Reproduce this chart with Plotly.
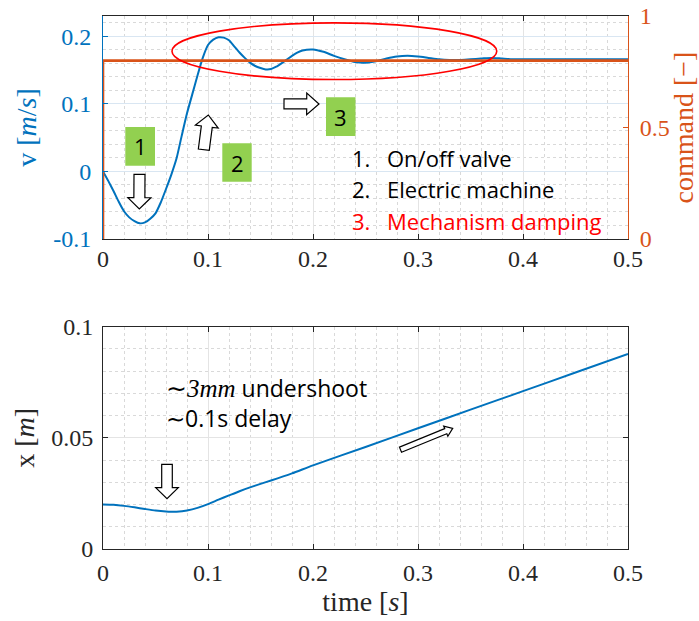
import math
import plotly.graph_objects as go

# ---------------- data ----------------
t_v = [0, 0.005, 0.01, 0.015, 0.02, 0.025, 0.03, 0.035, 0.04, 0.045, 0.05, 0.055,
       0.06, 0.065, 0.07, 0.075, 0.08, 0.085, 0.09, 0.095, 0.1, 0.105, 0.11, 0.115,
       0.12, 0.125, 0.13, 0.135, 0.14, 0.145, 0.15, 0.155, 0.16, 0.165, 0.17, 0.175,
       0.18, 0.185, 0.19, 0.2, 0.21, 0.22, 0.23, 0.24, 0.25, 0.26, 0.27, 0.28, 0.29,
       0.3, 0.31, 0.32, 0.33, 0.34, 0.35, 0.36, 0.37, 0.38, 0.39, 0.4, 0.45, 0.5]
v = [0, -0.014, -0.029, -0.045, -0.059, -0.068, -0.0735, -0.0768, -0.0755, -0.070,
     -0.062, -0.046, -0.026, -0.005, 0.019, 0.053, 0.086, 0.114, 0.142, 0.168, 0.187,
     0.195, 0.1985, 0.198, 0.194, 0.185, 0.176, 0.168, 0.161, 0.156, 0.153, 0.151,
     0.1515, 0.155, 0.160, 0.1655, 0.171, 0.1757, 0.179, 0.1805, 0.177, 0.171, 0.166,
     0.162, 0.161, 0.163, 0.167, 0.170, 0.171, 0.170, 0.168, 0.166, 0.165, 0.165,
     0.166, 0.167, 0.168, 0.167, 0.166, 0.166, 0.166, 0.166]

cmd_t = [0, 0, 0.5]
cmd = [0, 0.8, 0.8]

t_x = [0, 0.01, 0.02, 0.03, 0.04, 0.05, 0.06, 0.065, 0.07, 0.08, 0.09, 0.1, 0.11,
       0.12, 0.13, 0.14, 0.15, 0.16, 0.18, 0.2, 0.25, 0.3, 0.35, 0.4, 0.45, 0.5]
x_pos = [0.0200, 0.01986, 0.0194, 0.01875, 0.0180, 0.0173, 0.01684, 0.01675, 0.0168,
         0.01735, 0.0185, 0.0202, 0.0222, 0.0241, 0.0260, 0.0277, 0.0293, 0.0308,
         0.0340, 0.0376, 0.0459, 0.0543, 0.0627, 0.0710, 0.0794, 0.0877]

t_ticks = [0, 0.1, 0.2, 0.3, 0.4, 0.5]
t_ticktext = ["0", "0.1", "0.2", "0.3", "0.4", "0.5"]
v_ticks = [-0.1, 0, 0.1, 0.2]
v_ticktext = ["-0.1", "0", "0.1", "0.2"]
cmd_ticks = [0, 0.5, 1]
cmd_ticktext = ["0", "0.5", "1"]
x_ticks = [0, 0.05, 0.1]
x_ticktext = ["0", "0.05", "0.1"]

legend_nums = ["1.", "2.", "3."]
legend_items = ["On/off valve", "Electric machine", "Mechanism damping"]
legend_colors = ["black", "black", "#FF0000"]
box_labels = ["1", "2", "3"]

# ---------------- layout geometry ----------------
W, H = 699, 621
ML, MR, MT, MB = 103, 71, 16, 72
PW, PH = W - ML - MR, H - MT - MB

def px(xp):
    return (xp - ML) / PW

def py(yp):
    return (H - MB - yp) / PH

TOP_DOM = [py(239), 1.0]
BOT_DOM = [0.0, py(326.7)]

BLUE = "#0072BD"
ORANGE = "#D95319"
DARK = "#262626"
SERIF = "Liberation Serif"
SANS = "Open Sans"

fig = go.Figure()
fig.add_trace(go.Scatter(x=cmd_t, y=cmd, mode="lines", xaxis="x", yaxis="y3",
                         line=dict(color=ORANGE, width=2.6), showlegend=False))
fig.add_trace(go.Scatter(x=t_v, y=v, mode="lines", xaxis="x", yaxis="y",
                         line=dict(color=BLUE, width=2, shape="spline", smoothing=0.6),
                         showlegend=False))
fig.add_trace(go.Scatter(x=t_x, y=x_pos, mode="lines", xaxis="x2", yaxis="y2",
                         line=dict(color=BLUE, width=2, shape="spline", smoothing=0.6),
                         showlegend=False))

tickfont = dict(family=SERIF, size=24, color=DARK)
titlefont = dict(family=SERIF, size=28, color=DARK)
minor_x = dict(dtick=0.02, showgrid=True, gridcolor="#d9d9d9", griddash="dot", gridwidth=1)

common_x = dict(range=[0, 0.5], tickvals=t_ticks, ticktext=t_ticktext, ticks="inside",
                ticklen=5, tickcolor=DARK, showline=True, linecolor=DARK, linewidth=1,
                mirror="ticks", showgrid=True, gridcolor="#e4e4e4", gridwidth=1,
                minor=minor_x, tickfont=tickfont, zeroline=False, automargin=False)

fig.update_layout(
    width=W, height=H, margin=dict(l=ML, r=MR, t=MT, b=MB, autoexpand=False),
    paper_bgcolor="white", plot_bgcolor="white", showlegend=False,
    xaxis=dict(common_x, anchor="y", domain=[0, 1], ticklabelstandoff=-2),
    xaxis2=dict(common_x, anchor="y2", domain=[0, 1], ticklabelstandoff=2,
                title=dict(text="time [<i>s</i>]", font=titlefont, standoff=4)),
    yaxis=dict(domain=TOP_DOM, anchor="x", range=[-0.1, 0.23], tickvals=v_ticks,
               ticktext=v_ticktext, ticks="inside", ticklen=5, tickcolor=BLUE,
               showline=True, linecolor=BLUE, linewidth=1, mirror=False,
               showgrid=True, gridcolor="#d9e6f2", zeroline=False, automargin=False,
               minor=dict(dtick=0.02, showgrid=True, gridcolor="#d9d9d9", griddash="dot"),
               tickfont=dict(family=SERIF, size=24, color=BLUE), ticklabelstandoff=6,
               title=dict(text="v [<i>m</i>/<i>s</i>]",
                          font=dict(family=SERIF, size=28, color=BLUE), standoff=8)),
    yaxis3=dict(overlaying="y", anchor="x", side="right", range=[0, 1],
                tickvals=cmd_ticks, ticktext=cmd_ticktext, ticks="inside", ticklen=5,
                tickcolor=ORANGE, showline=True, linecolor=ORANGE, linewidth=1,
                showgrid=False, zeroline=False, automargin=False,
                tickfont=dict(family=SERIF, size=24, color=ORANGE), ticklabelstandoff=6,
                title=dict(text="command [\u2212]",
                           font=dict(family=SERIF, size=28, color=ORANGE), standoff=6)),
    yaxis2=dict(domain=BOT_DOM, anchor="x2", range=[0, 0.1], tickvals=x_ticks,
                ticktext=x_ticktext, ticks="inside", ticklen=5, tickcolor=DARK,
                showline=True, linecolor=DARK, linewidth=1, mirror="ticks",
                showgrid=True, gridcolor="#e4e4e4", zeroline=False, automargin=False,
                minor=dict(dtick=0.01, showgrid=True, gridcolor="#d9d9d9", griddash="dot"),
                tickfont=tickfont, ticklabelstandoff=4,
                title=dict(text="x [<i>m</i>]", font=titlefont, standoff=8)),
)

shapes = []
annotations = []

# red ellipse around oscillations (data coords of top plot)
shapes.append(dict(type="circle", xref="x", yref="y", x0=0.0657, x1=0.375,
                   y0=0.136, y1=0.2199, line=dict(color="#FF0000", width=1.6),
                   fillcolor="rgba(0,0,0,0)", layer="above"))

# green number boxes (pixel positions)
boxes = [(125.3, 155.0, 127.0, 165.7), (222.3, 251.7, 143.3, 181.7), (326.0, 355.5, 97.3, 136.0)]
for (x0, x1, y0, y1), lab in zip(boxes, box_labels):
    shapes.append(dict(type="rect", xref="paper", yref="paper", x0=px(x0), x1=px(x1),
                       y0=py(y1), y1=py(y0), fillcolor="#92D050", line=dict(width=0),
                       layer="above"))
    annotations.append(dict(xref="paper", yref="paper", x=px((x0 + x1) / 2),
                            y=py((y0 + y1) / 2), text=lab, showarrow=False,
                            font=dict(family=SANS, size=22, color="black"),
                            xanchor="center", yanchor="middle"))

# hollow block arrows (pixel positions: tail, tip, shaft width, head width, head length)
def arrow_path(tail, tip, sw, hw, hl):
    dx, dy = tip[0] - tail[0], tip[1] - tail[1]
    L = math.hypot(dx, dy)
    ux, uy = dx / L, dy / L
    nx, ny = -uy, ux
    bx, by = tip[0] - ux * hl, tip[1] - uy * hl
    pts = [
        (tail[0] + nx * sw / 2, tail[1] + ny * sw / 2),
        (bx + nx * sw / 2, by + ny * sw / 2),
        (bx + nx * hw / 2, by + ny * hw / 2),
        tip,
        (bx - nx * hw / 2, by - ny * hw / 2),
        (bx - nx * sw / 2, by - ny * sw / 2),
        (tail[0] - nx * sw / 2, tail[1] - ny * sw / 2),
    ]
    return "M " + " L ".join(f"{px(a):.5f},{py(b):.5f}" for a, b in pts) + " Z"

arrows = [
    ((139.5, 174.3), (139.3, 209.0), 11, 23, 11.3),
    ((203.8, 149.7), (208.3, 115.0), 11, 23, 11.7),
    ((284.0, 103.8), (319.0, 104.0), 10, 21.7, 12.3),
    ((167.0, 464.3), (167.0, 498.7), 10.6, 22.6, 11.0),
    ((400.5, 449.7), (452.7, 428.3), 5.5, 11, 7.5),
]
for tail, tip, sw, hw, hl in arrows:
    shapes.append(dict(type="path", xref="paper", yref="paper",
                       path=arrow_path(tail, tip, sw, hw, hl), fillcolor="white",
                       line=dict(color="black", width=1.2), layer="above"))

# legend-like text list
base_y = [157.5, 189.2, 220.8]
for num, item, col, yy in zip(legend_nums, legend_items, legend_colors, base_y):
    annotations.append(dict(xref="paper", yref="paper", x=px(350), y=py(yy), text=num,
                            showarrow=False, xanchor="left", yanchor="middle",
                            font=dict(family=SANS, size=22, color=col)))
    annotations.append(dict(xref="paper", yref="paper", x=px(385), y=py(yy), text=item,
                            showarrow=False, xanchor="left", yanchor="middle",
                            font=dict(family=SANS, size=22, color=col)))

# bottom plot note
note_lines = [
    "<span style='font-family:Liberation Serif;font-size:25px'>\u223c<i>3mm</i></span> undershoot",
    "<span style='font-family:Liberation Serif'>\u223c</span>0.1s delay",
]
for txt, yy in zip(note_lines, [387.5, 417.5]):
    annotations.append(dict(xref="paper", yref="paper", x=px(164), y=py(yy), text=txt,
                            showarrow=False, xanchor="left", yanchor="middle",
                            font=dict(family=SANS, size=23, color="black")))

fig.update_layout(shapes=shapes, annotations=annotations)
fig.write_html("out.html")
